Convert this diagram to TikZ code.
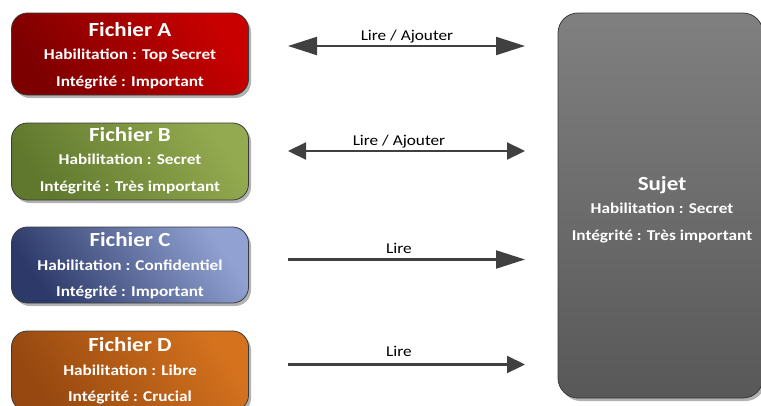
\documentclass[tikz,border=0pt]{standalone}
\usepackage{fontspec}
\setmainfont{Carlito}[FakeStretch=1.15]
\usetikzlibrary{shadows,arrows.meta}
\definecolor{arrowgray}{HTML}{404040}
\definecolor{edgegray}{HTML}{3A3A3A}
\tikzset{
  x=1pt,y=-1pt,
  boxbase/.style={rectangle, rounded corners=16pt, draw=edgegray, line width=0.8pt,
    drop shadow={shadow xshift=2.5pt, shadow yshift=-3pt, fill=black, opacity=0.3}},
  filebox/.style={boxbase, minimum width=237pt, inner sep=0pt},
  ttl/.style={anchor=base, text=white, font=\fontsize{20}{20}\selectfont\bfseries, inner sep=0pt},
  ln/.style={anchor=base, text=white, font=\fontsize{15}{15}\selectfont\bfseries, inner sep=0pt},
  lbl/.style={anchor=base, text=black, font=\fontsize{15}{15}\selectfont, inner sep=0pt},
  bigarrow/.style={draw=arrowgray, line width=2.2pt, arrows={-Triangle[length=29pt, width=18pt]}},
  bigarrowboth/.style={draw=arrowgray, line width=2.2pt, arrows={Triangle[length=29pt, width=18pt]-Triangle[length=29pt, width=18pt]}},
  smallarrow/.style={draw=arrowgray, line width=2.2pt, arrows={-Triangle[length=18pt, width=17pt]}},
  smallarrowboth/.style={draw=arrowgray, line width=2.2pt, arrows={Triangle[length=18pt, width=17pt]-Triangle[length=18pt, width=17pt]}},
}
\begin{document}
\begin{tikzpicture}
\useasboundingbox (0,0) rectangle (761,405);
% boxes
\node[filebox, minimum height=82pt, top color=red!75!black!100, bottom color=black!50!red, shading angle=-55,
  top color={rgb,255:red,200;green,0;blue,0}, bottom color={rgb,255:red,125;green,0;blue,0}, shading angle=-55] (A) at (130,54) {};
\node[filebox, minimum height=77pt, top color={rgb,255:red,148;green,170;blue,80}, bottom color={rgb,255:red,95;green,120;blue,45}, shading angle=-55] (B) at (130,161.5) {};
\node[filebox, minimum height=76pt, top color={rgb,255:red,145;green,162;blue,210}, bottom color={rgb,255:red,45;green,58;blue,105}, shading angle=-55] (C) at (130,265) {};
\node[filebox, minimum height=80pt, top color={rgb,255:red,212;green,114;blue,30}, bottom color={rgb,255:red,150;green,72;blue,16}, shading angle=-55] (D) at (130,371) {};
\node[boxbase, rounded corners=20pt, minimum width=205pt, minimum height=385pt, top color={rgb,255:red,128;green,128;blue,128}, bottom color={rgb,255:red,88;green,88;blue,88}] (S) at (660.5,205.5) {};
% texts A
\node[ttl] (At) at (130,36.5) {Fichier A};
\node[ln] (A2) at (130,59) {Habilitation : Top Secret};
\node[ln] (A3) at (130,86) {Intégrité : Important};
% B
\node[ttl] (Bt) at (130,141.5) {Fichier B};
\node[ln] (B2) at (130,164.5) {Habilitation : Secret};
\node[ln] (B3) at (130,191.5) {Intégrité : Très important};
% C
\node[ttl] (Ct) at (130,246.5) {Fichier C};
\node[ln] (C2) at (130,270) {Habilitation : Confidentiel};
\node[ln] (C3) at (130,296.5) {Intégrité : Important};
% D
\node[ttl] (Dt) at (130,351) {Fichier D};
\node[ln] (D2) at (130,375) {Habilitation : Libre};
\node[ln] (D3) at (130,401) {Intégrité : Crucial};
% Sujet
\node[ttl] (St) at (662,190) {Sujet};
\node[ln] (S2) at (662,213) {Habilitation : Secret};
\node[ln] (S3) at (662,240) {Intégrité : Très important};
% arrow endpoints
\coordinate (a1l) at (288,46); \coordinate (a1r) at (525,46);
\coordinate (a2l) at (288,151); \coordinate (a2r) at (525,151);
\coordinate (a3l) at (288,259.5); \coordinate (a3r) at (525,259.5);
\coordinate (a4l) at (288,364.5); \coordinate (a4r) at (525,364.5);
\draw[bigarrowboth] (a1l) -- (a1r);
\draw[smallarrowboth] (a2l) -- (a2r);
\draw[bigarrow] (a3l) -- (a3r);
\draw[smallarrow] (a4l) -- (a4r);
% labels
\node[lbl] (L1) at (407,40) {Lire / Ajouter};
\node[lbl, fill=white, inner sep=1pt] (L2) at (399,145) {Lire / Ajouter};
\node[lbl] (L3) at (399,253) {Lire};
\node[lbl] (L4) at (399,356) {Lire};
\end{tikzpicture}
\end{document}
